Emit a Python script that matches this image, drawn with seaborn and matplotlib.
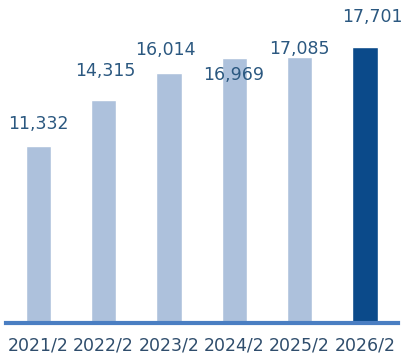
import matplotlib
matplotlib.use("Agg")
import matplotlib.pyplot as plt
import seaborn as sns
import pandas as pd

# Fiscal periods and net values
periods = ["2021/2", "2022/2", "2023/2", "2024/2", "2025/2", "2026/2"]
values = [11332, 14315, 16014, 16969, 17085, 17701]

# Label placement (pixels relative to the bar top centre)
label_dx = [0, 2, -4, -1, 0, 7]
label_dy = [22, 29, 23, -17, 8, 30]

LIGHT = "#adc1dc"
DARK = "#0b4a8a"
bar_colors = [LIGHT] * 5 + [DARK]

sns.set_theme(style="white")
plt.rcParams["font.family"] = ["DejaVu Sans"]

df = pd.DataFrame({"period": periods, "value": values})

fig = plt.figure(figsize=(4.04, 3.6), dpi=100)
ax = fig.add_axes([5.6 / 404, 37 / 360, 392 / 404, 318 / 360])

sns.barplot(data=df, x="period", y="value", hue="period",
            palette=bar_colors, legend=False, width=0.39,
            saturation=1, ax=ax)

ax.set_xlim(-0.5, 5.5)
ax.set_ylim(0, 20400)
ax.set_xlabel("")
ax.set_ylabel("")
ax.set_yticks([])

for side in ["left", "right", "top"]:
    ax.spines[side].set_visible(False)
ax.spines["bottom"].set_color("#4a7ec2")
ax.spines["bottom"].set_linewidth(3.0)

ax.tick_params(axis="x", length=0, pad=10, labelsize=12.5, labelcolor="#2f4d6c")

px = 72 / 100
for i, v in enumerate(values):
    ax.annotate(f"{v:,}", xy=(i, v),
                xytext=(label_dx[i] * px, label_dy[i] * px),
                textcoords="offset points", ha="center", va="center",
                fontsize=12.5, color="#2b5880")

fig.savefig("out.png", dpi=100)
